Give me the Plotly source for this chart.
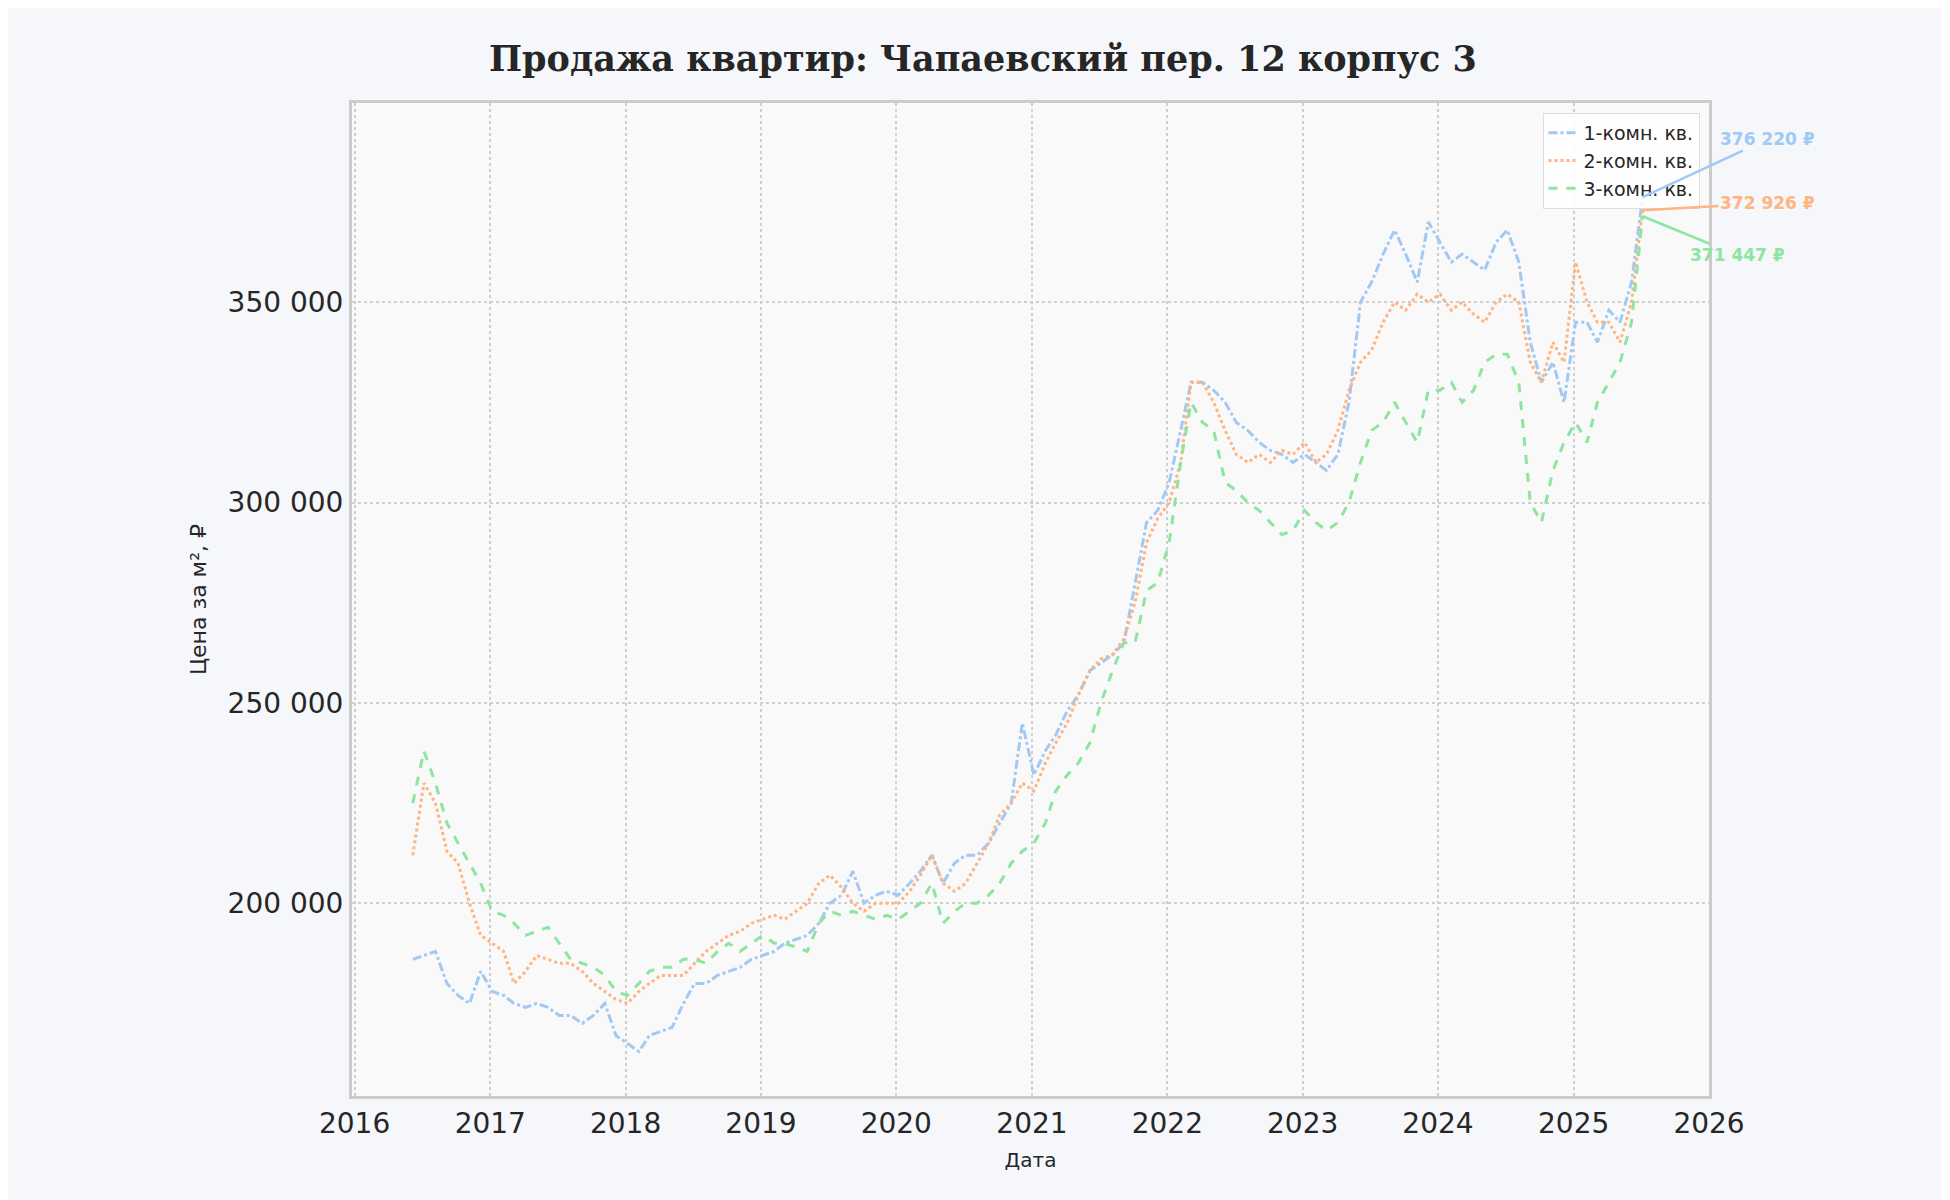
import pandas as pd
import plotly.graph_objects as go

dates = pd.date_range("2016-06-01", periods=110, freq="MS") + pd.Timedelta(days=5)

room1 = [186,187,188,180,177,175,183,
 178,177,175,174,175,174,172,172,170,172,175,167,
 165,163,167,168,169,175,180,180,182,183,184,186,
 187,188,190,191,192,195,200,202,208,200,202,203,
 202,205,208,212,205,210,212,212,215,220,225,245,
 232,238,242,248,252,258,260,262,265,280,295,298,
 305,318,330,330,328,325,320,318,315,313,312,310,
 312,310,308,312,325,350,355,362,368,362,355,370,
 365,360,362,360,358,365,368,360,340,330,335,325,
 345,345,340,348,345,355,376.22]
room2 = [212,230,225,213,210,200,192,
 190,188,180,183,187,186,185,185,183,180,178,176,
 175,178,180,182,182,182,185,188,190,192,193,195,
 196,197,196,198,200,205,207,204,200,198,200,200,
 200,203,207,212,205,203,205,210,215,222,225,230,
 228,235,240,245,252,258,261,262,266,275,290,296,
 300,310,330,330,325,318,312,310,312,310,313,312,
 315,310,312,318,328,335,338,345,350,348,352,350,
 352,348,350,347,345,350,352,350,335,330,340,335,
 360,350,345,345,340,350,372.926]
room3 = [225,238,230,220,215,210,205,
 198,197,195,192,193,194,190,186,185,184,182,178,
 177,180,183,184,184,186,186,185,188,190,188,190,
 192,190,190,189,188,195,198,197,198,197,196,197,
 196,198,200,205,195,198,200,200,202,205,210,213,
 215,220,228,232,235,240,250,258,265,265,278,280,
 290,310,325,320,318,305,303,300,298,295,292,293,
 298,295,293,295,300,310,318,320,325,320,315,328,
 328,330,325,328,335,337,337,330,300,295,308,315,
 320,315,325,330,335,345,371.447]

names = ["1-комн. кв.", "2-комн. кв.", "3-комн. кв."]
colors = ["#a1c9f4", "#ffb482", "#8de5a1"]
dashes = ["dashdot", "dot", "dash"]
series = [room1, room2, room3]
offsets = [(125, -58), (125, -7), (95, 39)]

fig = go.Figure()
for s, n, c, d in zip(series, names, colors, dashes):
    fig.add_trace(go.Scatter(x=dates, y=[v * 1000 for v in s], name=n, mode="lines",
                             line=dict(color=c, dash=d, width=3)))

for s, c, (ax, ay) in zip(series, colors, offsets):
    v = s[-1] * 1000
    fig.add_annotation(x=dates[-1], y=v, ax=ax, ay=ay,
                       text="<b>" + f"{round(v):,} ₽".replace(",", " ") + "</b>",
                       showarrow=True, arrowhead=0, arrowwidth=2.5, arrowcolor=c,
                       font=dict(color=c, size=17, family="DejaVu Sans"))

fig.update_layout(
    width=1950, height=1200,
    paper_bgcolor="#f5f7fa", plot_bgcolor="#f9f9f9",
    margin=dict(l=344, r=249, t=95, b=112),
    font=dict(family="DejaVu Sans", color="#262626"),
    title=dict(text="<b>Продажа квартир: Чапаевский пер. 12 корпус 3</b>",
               x=0.5, xanchor="center", y=0.968,
               font=dict(family="DejaVu Serif", size=35, color="#262626")),
    legend=dict(x=0.993, y=0.99, xanchor="right", yanchor="top",
                bgcolor="rgba(255,255,255,0.85)", bordercolor="#dddddd", borderwidth=1,
                font=dict(size=19)),
)
fig.update_xaxes(range=["2015-12-25", "2026-01-01"], dtick="M12", tickformat="%Y",
                 showgrid=True, gridcolor="#cfcfcf", griddash="dot", gridwidth=1.5,
                 showline=True, linecolor="#cccccc", linewidth=3, mirror=True,
                 tickfont=dict(size=28), ticks="",
                 title=dict(text="Дата", font=dict(size=20)))
fig.update_yaxes(range=[151900, 399700], tickvals=[200000, 250000, 300000, 350000],
                 ticktext=["200 000", "250 000", "300 000", "350 000"],
                 showgrid=True, gridcolor="#cfcfcf", griddash="dot", gridwidth=1.5,
                 showline=True, linecolor="#cccccc", linewidth=3, mirror=True, zeroline=False,
                 tickfont=dict(size=28), ticks="",
                 title=dict(text="Цена за м², ₽", font=dict(size=22)))
fig.write_html("out.html")
